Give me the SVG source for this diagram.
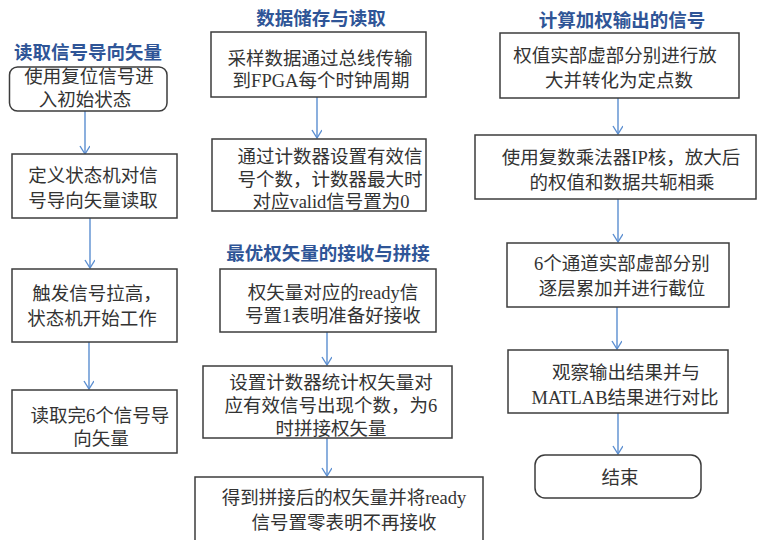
<svg xmlns="http://www.w3.org/2000/svg" width="757" height="540" viewBox="0 0 757 540">
<defs>
<style>
.box{fill:#fff;stroke:#3c3c3c;stroke-width:1.5}
.t{font-family:"Liberation Serif","Noto Sans CJK SC",serif;font-size:18.5px;fill:#333;text-anchor:middle}
.h{font-family:"Noto Sans CJK SC",sans-serif;font-size:18.5px;font-weight:bold;fill:#2f5597;text-anchor:middle}
.c{stroke:#5b8ed0;stroke-width:1.4;fill:none}
</style>
<marker id="ah" markerWidth="12" markerHeight="12" refX="9" refY="5" orient="auto" markerUnits="userSpaceOnUse">
<path d="M1,0 L9,5 L1,10" fill="none" stroke="#5b8ed0" stroke-width="1.4"/>
</marker>
</defs>
<rect width="757" height="540" fill="#fff"/>

<text class="h" x="88" y="59">读取信号导向矢量</text>
<text class="h" x="321" y="25">数据储存与读取</text>
<text class="h" x="622" y="27">计算加权输出的信号</text>
<text class="h" x="328" y="260">最优权矢量的接收与拼接</text>

<g id="connectors">
<line class="c" x1="85" y1="111" x2="85" y2="154" marker-end="url(#ah)"/>
<line class="c" x1="90" y1="218" x2="90" y2="268" marker-end="url(#ah)"/>
<line class="c" x1="89" y1="342" x2="89" y2="389" marker-end="url(#ah)"/>
<line class="c" x1="317" y1="97" x2="317" y2="138" marker-end="url(#ah)"/>
<line class="c" x1="327" y1="332" x2="327" y2="365" marker-end="url(#ah)"/>
<line class="c" x1="327" y1="438" x2="327" y2="476" marker-end="url(#ah)"/>
<line class="c" x1="618" y1="98" x2="618" y2="134" marker-end="url(#ah)"/>
<line class="c" x1="618" y1="199" x2="618" y2="242" marker-end="url(#ah)"/>
<line class="c" x1="617" y1="307" x2="617" y2="349" marker-end="url(#ah)"/>
<line class="c" x1="618" y1="413" x2="618" y2="454" marker-end="url(#ah)"/>
</g>

<g id="n1">
<rect class="box" x="9.5" y="67" width="157.5" height="44" rx="8"/>
<text class="t" x="89" y="83">使用复位信号进</text>
<text class="t" x="85" y="106">入初始状态</text>
</g>
<g id="n2">
<rect class="box" x="12" y="154" width="165" height="64"/>
<text class="t" x="93" y="182">定义状态机对信</text>
<text class="t" x="93" y="207">号导向矢量读取</text>
</g>
<g id="n3">
<rect class="box" x="12" y="269" width="165" height="73"/>
<text class="t" x="97" y="300">触发信号拉高，</text>
<text class="t" x="92" y="325">状态机开始工作</text>
</g>
<g id="n4">
<rect class="box" x="12" y="390" width="165" height="63"/>
<text class="t" x="100" y="422">读取完6个信号导</text>
<text class="t" x="101" y="445">向矢量</text>
</g>

<g id="m1">
<rect class="box" x="211" y="32" width="215" height="65"/>
<text class="t" x="320" y="65">采样数据通过总线传输</text>
<text class="t" x="321" y="87">到FPGA每个时钟周期</text>
</g>
<g id="m2">
<rect class="box" x="212" y="139" width="214" height="72"/>
<text class="t" x="330" y="163">通过计数器设置有效信</text>
<text class="t" x="330" y="186">号个数，计数器最大时</text>
<text class="t" x="331" y="208">对应valid信号置为0</text>
</g>
<g id="m3">
<rect class="box" x="220" y="269" width="216" height="63"/>
<text class="t" x="333" y="299">权矢量对应的ready信</text>
<text class="t" x="333" y="322">号置1表明准备好接收</text>
</g>
<g id="m4">
<rect class="box" x="203" y="366" width="249" height="72"/>
<text class="t" x="331" y="389">设置计数器统计权矢量对</text>
<text class="t" x="331" y="412">应有效信号出现个数，为6</text>
<text class="t" x="331" y="435">时拼接权矢量</text>
</g>
<g id="m5">
<rect class="box" x="195" y="477" width="288" height="70"/>
<text class="t" x="344" y="504">得到拼接后的权矢量并将ready</text>
<text class="t" x="344" y="529">信号置零表明不再接收</text>
</g>

<g id="r1">
<rect class="box" x="500" y="33" width="239" height="65"/>
<text class="t" x="615" y="62">权值实部虚部分别进行放</text>
<text class="t" x="619" y="87">大并转化为定点数</text>
</g>
<g id="r2">
<rect class="box" x="475" y="135" width="281" height="64"/>
<text class="t" x="621" y="164">使用复数乘法器IP核，放大后</text>
<text class="t" x="622" y="189">的权值和数据共轭相乘</text>
</g>
<g id="r3">
<rect class="box" x="507" y="243" width="222" height="64"/>
<text class="t" x="622" y="270">6个通道实部虚部分别</text>
<text class="t" x="622" y="295">逐层累加并进行截位</text>
</g>
<g id="r4">
<rect class="box" x="508" y="350" width="220" height="63"/>
<text class="t" x="626" y="379">观察输出结果并与</text>
<text class="t" x="625" y="404">MATLAB结果进行对比</text>
</g>
<g id="r5">
<rect class="box" x="535" y="455" width="166" height="43" rx="10"/>
<text class="t" x="620" y="484">结束</text>
</g>
</svg>
